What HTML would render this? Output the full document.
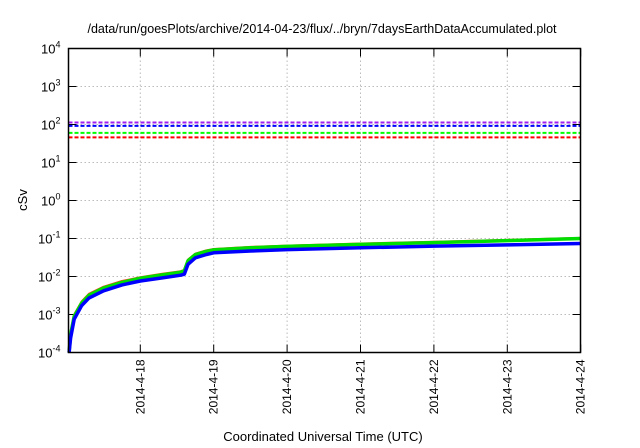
<!DOCTYPE html>
<html><head><meta charset="utf-8"><style>
html,body{margin:0;padding:0;background:#fff;}
svg{display:block;font-family:"Liberation Sans",sans-serif;}
</style></head><body>
<svg id="chart" width="640" height="448" viewBox="0 0 640 448" xmlns="http://www.w3.org/2000/svg"></svg>
<script>
// data
const dayLabels = ["2014-4-18","2014-4-19","2014-4-20","2014-4-21","2014-4-22","2014-4-23","2014-4-24"];
const yTickExps = [-4,-3,-2,-1,0,1,2,3,4];
const refColors = ["#a020f0","#0000ff","#00ff00","#ff0000"];
const refValues = [113, 92, 60, 46];
const timeDays = [-0.97,-0.95,-0.9,-0.8,-0.7,-0.5,-0.25,0,0.3,0.55,0.6,0.65,0.75,0.9,1.0,1.5,2,3,4,5,6];
const redValues = [1.1e-4,3.3e-4,1.0e-3,2.2e-3,3.5e-3,5.4e-3,7.6e-3,9.6e-3,1.18e-2,1.38e-2,1.5e-2,2.8e-2,4.0e-2,4.9e-2,5.3e-2,6.0e-2,6.5e-2,7.4e-2,8.2e-2,9.2e-2,0.104];
const greenValues = [1.0e-4,3.0e-4,9.0e-4,2.0e-3,3.2e-3,5.0e-3,7.0e-3,9.0e-3,1.1e-2,1.3e-2,1.4e-2,2.6e-2,3.8e-2,4.6e-2,5.0e-2,5.7e-2,6.2e-2,7.0e-2,7.8e-2,8.8e-2,0.1];
const blueValues = [1.0e-4,2.4e-4,7.5e-4,1.7e-3,2.7e-3,4.2e-3,6.0e-3,7.6e-3,9.2e-3,1.08e-2,1.15e-2,2.1e-2,3.1e-2,3.8e-2,4.2e-2,4.7e-2,5.1e-2,5.7e-2,6.3e-2,6.8e-2,0.074];

const L=68.5,R=580.5,T=48.5,B=352.5;
const xs = d => 140.3 + d*73.4;
const ys = v => B - (Math.log10(v)+4)*((B-T)/8);
const svg=document.getElementById('chart');
const NS="http://www.w3.org/2000/svg";
function mk(tag,attrs,parent){const e=document.createElementNS(NS,tag);for(const k in attrs)e.setAttribute(k,attrs[k]);(parent||svg).appendChild(e);return e;}

// grid
yTickExps.forEach((e,i)=>{
  const y=ys(Math.pow(10,e));
  if(i>0&&i<yTickExps.length-1){const g=mk('line',{x1:L,x2:R,y1:y,y2:y,stroke:'#bbb','stroke-width':1,'stroke-dasharray':'1.5,2.5'});
  
  }
  const t1=mk('line',{x1:L,x2:L+8,y1:y,y2:y,stroke:'#000','stroke-width':1});
  const t2=mk('line',{x1:R-8,x2:R,y1:y,y2:y,stroke:'#000','stroke-width':1});
  const lab=mk('text',{x:L-8,y:y+5,'text-anchor':'end','font-size':13,fill:'#000'});
  
  
  lab.innerHTML='10<tspan dy="-6" font-size="9">'+e+'</tspan>';
});
dayLabels.forEach((s,i)=>{
  const x=xs(i);
  if(i<dayLabels.length-1){const g=mk('line',{x1:x,x2:x,y1:T,y2:B,stroke:'#bbb','stroke-width':1,'stroke-dasharray':'1.5,2.5'});
  
  }
  mk('line',{x1:x,x2:x,y1:B-8,y2:B,stroke:'#000','stroke-width':1});
  mk('line',{x1:x,x2:x,y1:T,y2:T+8,stroke:'#000','stroke-width':1});
  const lab=mk('text',{x:0,y:0,'text-anchor':'end','font-size':12,fill:'#000',transform:`translate(${x+4},${B+7}) rotate(-90)`});
  
  
  lab.textContent=s;
});

// reference lines
refValues.forEach((v,i)=>{
  const y=ys(v);
  const l=mk('line',{x1:L,x2:R,y1:y,y2:y,stroke:refColors[i],'stroke-width':2,'stroke-dasharray':'4,2'});
  
  
});

// curves
function curve(vals,color,w,name){
  const d=timeDays.map((t,i)=>(i?'L':'M')+xs(t).toFixed(1)+','+ys(vals[i]).toFixed(1)).join(' ');
  const p=mk('path',{d:d,fill:'none',stroke:color,'stroke-width':w,'stroke-linejoin':'round'});
  
  
}
curve(redValues,'#ff4020',2,'red-series');
curve(greenValues,'#00dd00',3.5,'green-series');
curve(blueValues,'#0000ff',3.5,'blue-series');

// frame
const fr=mk('rect',{x:L,y:T,width:R-L,height:B-T,fill:'none',stroke:'#000','stroke-width':1.5});



const title=mk('text',{x:322,y:33,'text-anchor':'middle','font-size':12.5,fill:'#000'});


title.textContent='/data/run/goesPlots/archive/2014-04-23/flux/../bryn/7daysEarthDataAccumulated.plot';
const yl=mk('text',{x:0,y:0,'text-anchor':'middle','font-size':13,fill:'#000',transform:'translate(27,200) rotate(-90)'});


yl.textContent='cSv';
const xl=mk('text',{x:323,y:441,'text-anchor':'middle','font-size':13,fill:'#000'});


xl.textContent='Coordinated Universal Time (UTC)';
</script>
</body></html>
